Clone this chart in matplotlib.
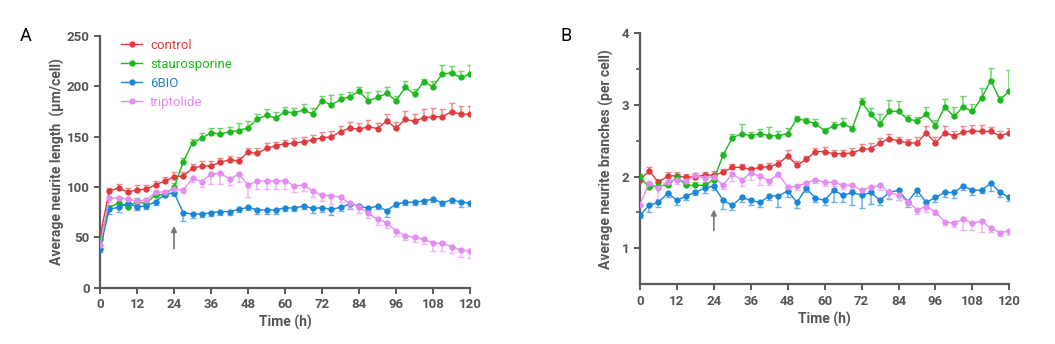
import numpy as np
import matplotlib
matplotlib.use("Agg")
import matplotlib.pyplot as plt

plt.rcParams["font.family"] = ["Roboto", "DejaVu Sans"]

hours = np.arange(0, 121, 3)

# neurite length (um/cell)
len_control = [51, 96, 99, 95, 97, 98, 102, 106, 110, 111, 118.5, 121, 121, 124.5, 127, 126,
               134.5, 133.5, 138.5, 141, 143, 143.5, 145, 146.7, 149, 149.7, 155, 158.6, 157.3,
               160, 158, 165.8, 158.3, 167.2, 165.5, 168.8, 169.8, 169.8, 174.8, 172.5, 172.2]
len_stauro = [48, 79.5, 84.4, 80.4, 85.4, 83.8, 92.4, 92.4, 99.7, 125, 144, 148.4, 154, 152.6,
              155, 156, 159, 167.5, 171.2, 168.5, 174.8, 173.8, 176.5, 172.5, 185.7, 181.4, 187,
              189.7, 195.3, 185.7, 189, 193, 185.7, 199, 192.3, 204.6, 199.6, 212.2, 213.5,
              208.8, 212.2]
len_6bio = [38.7, 77.8, 79.8, 83.8, 80.4, 81.1, 85.4, 92.7, 94.3, 74.5, 73.2, 73.2, 74.5, 75.5,
            75.5, 77.8, 79.8, 77.2, 77.2, 77.2, 79.3, 79.2, 81.1, 78.8, 79.5, 77.8, 79.8, 83.1,
            81.1, 78.8, 81.1, 76.5, 83.1, 84.8, 84.8, 86.4, 87.8, 84.4, 87.1, 85.4, 83.8]
len_tripto = [42, 88.8, 89.4, 87.8, 86.4, 87.1, 94.7, 95.3, 97.7, 97, 108.6, 105.3, 113, 113.6,
              108, 112.6, 102, 106, 106, 106, 106.3, 101, 102, 96, 92, 91.4, 89.8, 83.8, 80.4,
              73.9, 67.9, 64.5, 56.3, 51.6, 50, 48, 44.7, 44, 40.7, 37.4, 36.4]

len_control_err = [3, 3, 4, 4, 5, 4, 4, 4, 5, 4, 4, 5, 5, 4, 4, 4, 4, 5, 5, 4, 4, 5, 5, 5, 6, 6,
                   6, 6, 6, 7, 6, 7, 6, 8, 7, 9, 9, 8, 9, 8, 8]
len_stauro_err = [3, 3, 4, 3, 4, 3, 3, 3, 4, 4, 4, 5, 5, 6, 5, 8, 7, 5, 6, 6, 5, 5, 6, 6, 5, 10,
                  5, 5, 4, 9, 6, 6, 5, 6, 5, 3, 6, 9, 7, 6, 9]
len_6bio_err = [3, 5, 5, 3, 3, 3, 3, 3, 3, 8, 4, 3, 3, 3, 3, 3, 3, 4, 4, 4, 3, 3, 3, 5, 4, 6, 4,
                5, 3, 3, 3, 6, 3, 3, 3, 3, 3, 3, 3, 5, 3]
len_tripto_err = [3, 4, 4, 4, 4, 4, 4, 4, 3, 3, 4, 5, 10, 11, 6, 8, 12, 8, 8, 8, 8, 6, 6, 6, 6, 8,
                  5, 5, 6, 5, 6, 5, 5, 4, 5, 5, 8, 8, 6, 7, 7]

# neurite branches (per cell)
br_control = [1.96, 2.08, 1.92, 2.01, 2.01, 1.99, 2.0, 2.02, 2.02, 2.06, 2.13, 2.13, 2.1, 2.13,
              2.14, 2.18, 2.29, 2.16, 2.24, 2.35, 2.35, 2.32, 2.32, 2.33, 2.38, 2.39, 2.47, 2.53,
              2.5, 2.47, 2.47, 2.61, 2.47, 2.61, 2.57, 2.62, 2.64, 2.63, 2.63, 2.57, 2.61]
br_stauro = [2.0, 1.85, 1.87, 1.88, 1.99, 1.88, 1.88, 1.88, 1.96, 2.3, 2.54, 2.6, 2.57, 2.6, 2.57,
             2.57, 2.6, 2.81, 2.78, 2.74, 2.64, 2.71, 2.74, 2.67, 3.04, 2.87, 2.74, 2.91, 2.91,
             2.8, 2.78, 2.87, 2.71, 2.97, 2.84, 2.97, 2.91, 3.1, 3.34, 3.07, 3.2]
br_6bio = [1.46, 1.6, 1.64, 1.77, 1.67, 1.73, 1.78, 1.84, 1.87, 1.67, 1.6, 1.71, 1.67, 1.64,
           1.73, 1.73, 1.8, 1.64, 1.84, 1.7, 1.67, 1.81, 1.74, 1.78, 1.74, 1.78, 1.67, 1.78,
           1.81, 1.65, 1.81, 1.64, 1.71, 1.78, 1.78, 1.87, 1.81, 1.81, 1.91, 1.78, 1.71]
br_tripto = [1.61, 1.91, 1.84, 1.93, 1.96, 1.94, 2.02, 1.98, 2.0, 1.88, 2.04, 1.95, 2.05, 2.01,
             1.94, 2.04, 1.85, 1.87, 1.91, 1.96, 1.92, 1.92, 1.88, 1.88, 1.81, 1.85, 1.88, 1.78,
             1.74, 1.65, 1.54, 1.58, 1.51, 1.37, 1.35, 1.41, 1.35, 1.38, 1.28, 1.22, 1.24]

br_control_err = [0.04, 0.05, 0.04, 0.05, 0.05, 0.04, 0.05, 0.05, 0.06, 0.04, 0.04, 0.04, 0.04,
                  0.05, 0.05, 0.05, 0.08, 0.06, 0.05, 0.05, 0.06, 0.05, 0.05, 0.07, 0.08, 0.08,
                  0.07, 0.06, 0.06, 0.05, 0.09, 0.09, 0.09, 0.1, 0.07, 0.08, 0.08, 0.09, 0.06,
                  0.06, 0.07]
br_stauro_err = [0.04, 0.03, 0.1, 0.05, 0.04, 0.04, 0.05, 0.04, 0.05, 0.04, 0.05, 0.14, 0.05,
                 0.06, 0.12, 0.07, 0.08, 0.04, 0.04, 0.07, 0.04, 0.05, 0.08, 0.04, 0.06, 0.09,
                 0.14, 0.16, 0.15, 0.06, 0.05, 0.1, 0.08, 0.12, 0.13, 0.15, 0.11, 0.14, 0.17,
                 0.05, 0.29]
br_6bio_err = [0.04, 0.1, 0.06, 0.05, 0.06, 0.06, 0.04, 0.07, 0.05, 0.12, 0.06, 0.06, 0.06,
               0.06, 0.05, 0.15, 0.08, 0.08, 0.06, 0.05, 0.07, 0.16, 0.1, 0.18, 0.18, 0.16, 0.07,
               0.09, 0.13, 0.08, 0.08, 0.05, 0.06, 0.06, 0.08, 0.05, 0.06, 0.04, 0.11, 0.06, 0.05]
br_tripto_err = [0.04, 0.05, 0.15, 0.06, 0.06, 0.05, 0.05, 0.07, 0.06, 0.05, 0.1, 0.08, 0.1,
                 0.12, 0.05, 0.05, 0.08, 0.06, 0.05, 0.05, 0.05, 0.05, 0.05, 0.05, 0.05, 0.07,
                 0.07, 0.08, 0.06, 0.05, 0.06, 0.08, 0.05, 0.05, 0.05, 0.15, 0.1, 0.15, 0.05,
                 0.05, 0.05]

labels = ["control", "staurosporine", "6BIO", "triptolide"]
colors = ["#e0393e", "#1cb81c", "#1a86d8", "#e58cf2"]
err_colors = ["#ee8a8d", "#6ad66a", "#6ab3ea", "#eeb4f6"]
# red/green bars drawn above the points, blue/violet below
err_up = [True, True, False, False]

axis_grey = "#5a5a5a"
text_grey = "#555555"


def style_axis(ax):
    for side in ["top", "right"]:
        ax.spines[side].set_visible(False)
    for side in ["left", "bottom"]:
        ax.spines[side].set_color(axis_grey)
        ax.spines[side].set_linewidth(1.6)
    ax.tick_params(colors=axis_grey, width=1.4, length=4, labelcolor=text_grey,
                   labelsize=9.5)
    for lab in ax.get_xticklabels() + ax.get_yticklabels():
        lab.set_fontweight("bold")
    ax.set_xlim(0, 120)
    ax.set_xticks(np.arange(0, 121, 12))
    ax.set_xlabel("Time (h)", fontsize=10, fontweight="bold", color=text_grey, labelpad=3)


def draw_series(ax, series, errors):
    for vals, err, lab, c, ec, up in zip(series, errors, labels, colors, err_colors, err_up):
        vals = np.array(vals)
        err = np.array(err)
        yerr = [np.zeros_like(err), err] if up else [err, np.zeros_like(err)]
        ax.errorbar(hours, vals, yerr=yerr, fmt="none", ecolor=ec, elinewidth=1.1,
                    capsize=2.5, capthick=1.0, zorder=2)
        ax.plot(hours, vals, "-o", color=c, lw=1.0, ms=3.5, label=lab, zorder=3)


fig = plt.figure(figsize=(10.55, 3.44), dpi=100)

ax1 = fig.add_axes([0.0948, 0.1637, 0.3507, 0.7316])
draw_series(ax1, [len_control, len_stauro, len_6bio, len_tripto],
            [len_control_err, len_stauro_err, len_6bio_err, len_tripto_err])
ax1.set_ylim(0, 250)
ax1.set_yticks(np.arange(0, 251, 50))
ax1.set_ylabel("Average neurite length  (\u00b5m/cell)", fontsize=10, fontweight="bold",
               color=text_grey, labelpad=1)
style_axis(ax1)
ax1.annotate("", xy=(24, 64), xytext=(24, 36),
             arrowprops=dict(arrowstyle="-|>", color="#777777", lw=1.2, mutation_scale=8))
leg = ax1.legend(loc="upper left", bbox_to_anchor=(0.025, 1.035), frameon=False, fontsize=9.5,
                 handlelength=1.6, handletextpad=0.6, labelspacing=0.45, labelcolor="linecolor")

ax2 = fig.add_axes([0.6066, 0.174, 0.3501, 0.7292])
draw_series(ax2, [br_control, br_stauro, br_6bio, br_tripto],
            [br_control_err, br_stauro_err, br_6bio_err, br_tripto_err])
ax2.set_ylim(0.5, 4)
ax2.set_yticks([1, 2, 3, 4])
ax2.set_yticks([1.5, 2.5, 3.5], minor=True)
ax2.tick_params(which="minor", length=3, width=1.2, color=axis_grey)
ax2.set_ylabel("Average neurite branches (per cell)", fontsize=10, fontweight="bold",
               color=text_grey, labelpad=6)
style_axis(ax2)
ax2.annotate("", xy=(24, 1.58), xytext=(24, 1.21),
             arrowprops=dict(arrowstyle="-|>", color="#777777", lw=1.2, mutation_scale=8))

fig.text(0.019, 0.88, "A", fontsize=13, color="black")
fig.text(0.531, 0.88, "B", fontsize=13, color="black")

fig.savefig("out.png", dpi=100)
